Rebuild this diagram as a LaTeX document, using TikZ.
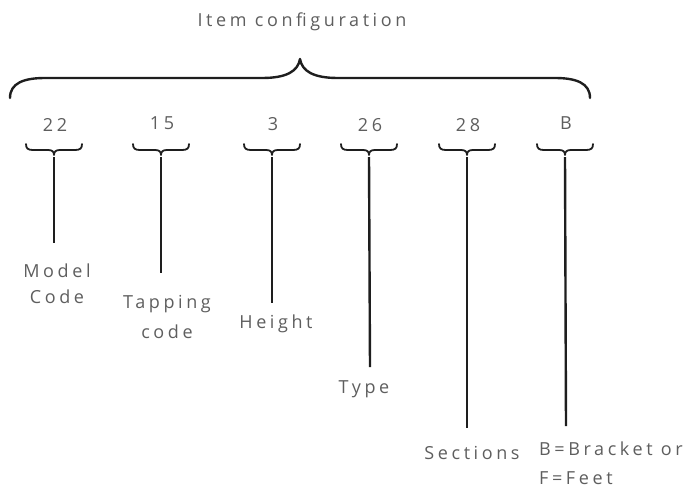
\documentclass[tikz,border=0pt]{standalone}
\usepackage{fontspec}
\setmainfont[LetterSpace=20]{Open Sans}
\definecolor{textgray}{HTML}{5E5E5E}
\definecolor{inkc}{HTML}{1E1E1E}
\begin{document}
\begin{tikzpicture}[x=1pt,y=-1pt,
  txt/.style={text=textgray, font=\fontsize{18}{27}\selectfont, inner sep=0pt},
  brc/.style={line width=2.4pt, draw=inkc, line cap=round, line join=round},
  sbrc/.style={line width=1.8pt, draw=inkc, line cap=round, line join=round},
  stem/.style={line width=2.4pt, draw=inkc}]
\useasboundingbox (0,0) rectangle (699,488);
% title
\node[txt] (title) at (302,22) {Item configuration};
% big brace
\draw[brc] (10,98) .. controls (10,83) and (24,78) .. (45,78) -- (262,78)
  .. controls (287,78) and (298,71) .. (300,59)
  .. controls (302,71) and (313,78) .. (338,78) -- (555,78)
  .. controls (576,78) and (590,83) .. (590,98);
% numbers
\node[txt] (n1) at (55,125) {22};
\node[txt] (n2) at (162,123) {15};
\node[txt] (n3) at (273,124) {3};
\node[txt] (n4) at (370,125) {26};
\node[txt] (n5) at (468,125) {28};
\node[txt] (n6) at (566,123) {B};
% small braces and stem coordinates
\foreach \i/\c in {1/54,2/161,3/272,4/369,5/467,6/565}{
  \draw[sbrc] (\c-28,144) .. controls (\c-28,148.5) and (\c-26,150) .. (\c-21,150) -- (\c-6,150)
    .. controls (\c-2,150) and (\c,151.5) .. (\c,155)
    .. controls (\c,151.5) and (\c+2,150) .. (\c+6,150) -- (\c+21,150)
    .. controls (\c+26,150) and (\c+28,148.5) .. (\c+28,144);
  \coordinate (b\i) at (\c,157);
}
\coordinate (e1) at (54,243);
\coordinate (e2) at (161,273);
\coordinate (e3) at (272,303);
\coordinate (e4) at (370,367);
\coordinate (e5) at (467,428);
\coordinate (e6) at (566,426);
\foreach \i in {1,...,6}{ \draw[stem] (b\i) -- (e\i); }
% labels
\node[txt, align=center, font=\fontsize{18}{26}\selectfont] (l1) at (57,284) {Model\\Code};
\node[txt, align=center, font=\fontsize{18}{30}\selectfont] (l2) at (167,317) {Tapping\\code};
\node[txt] (l3) at (276,324) {Height};
\node[txt] (l4) at (364,389) {Type};
\node[txt] (l5) at (472,453) {Sections};
\node[txt, align=left, anchor=north west, font=\fontsize{18}{29}\selectfont] (l6) at (539,442) {B=Bracket or\\F=Feet};
\end{tikzpicture}
\end{document}
